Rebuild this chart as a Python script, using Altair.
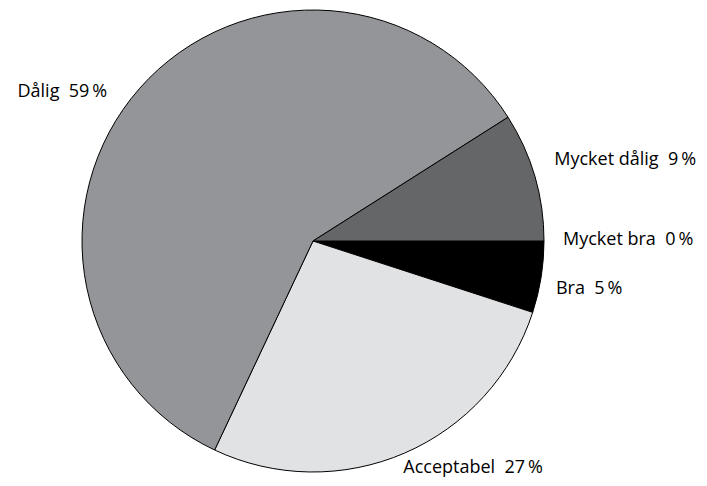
import math
import altair as alt
import pandas as pd

# ---- data ----
categories = ["Mycket bra", "Bra", "Acceptabel", "Dålig", "Mycket dålig"]
values = [0, 5, 27, 59, 9]
pct_labels = ["0\u2009%", "5\u2009%", "27\u2009%", "59\u2009%", "9\u2009%"]
colors = ["#000000", "#000000", "#e1e2e4", "#939598", "#656668"]

df = pd.DataFrame({
    "cat": categories,
    "value": values,
    "order": list(range(len(categories))),
    "label": [f"{c}\u00a0 {p}" for c, p in zip(categories, pct_labels)],
})

# ---- layout ----
CX, CY, R = 305, 233, 231
LABEL_R = 245
label_style = {
    "Mycket bra": dict(align="left", dx=5, dy=-1),
    "Bra": dict(align="left", dx=1, dy=10),
    "Acceptabel": dict(align="left", dx=-7, dy=2),
    "Dålig": dict(align="right", dx=-22, dy=13),
    "Mycket dålig": dict(align="left", dx=6, dy=-13),
}
FONT = "Open Sans"
FONT_SIZE = 18

base = alt.Chart(df)

pie = base.mark_arc(radius=R, stroke="black", strokeWidth=1).encode(
    x=alt.value(CX),
    y=alt.value(CY),
    theta=alt.Theta("value:Q", stack=True,
                    scale=alt.Scale(range=[math.pi / 2, math.pi / 2 + 2 * math.pi])),
    order=alt.Order("order:Q", sort="ascending"),
    color=alt.Color("cat:N", scale=alt.Scale(domain=categories, range=colors), legend=None),
)

lab_base = base.transform_window(
    cum="sum(value)", sort=[{"field": "order"}], frame=[None, 0]
).transform_calculate(
    mid="PI/2 + 2*PI*(datum.cum - datum.value/2)/100"
)

layers = [pie]
for c in categories:
    st = label_style[c]
    layers.append(
        lab_base.transform_filter(alt.datum.cat == c).mark_text(
            radius=LABEL_R, font=FONT, fontSize=FONT_SIZE, color="black",
            baseline="middle", align=st["align"], dx=st["dx"], dy=st["dy"],
        ).encode(
            x=alt.value(CX),
            y=alt.value(CY),
            theta=alt.Theta("mid:Q", scale=None),
            text="label:N",
        )
    )

chart = alt.layer(*layers).properties(
    width=691, height=470,
    autosize=alt.AutoSizeParams(type="none"),
    padding=0,
).configure_view(stroke=None)

chart.save("out.html", embed_options={"renderer": "svg", "actions": False})
